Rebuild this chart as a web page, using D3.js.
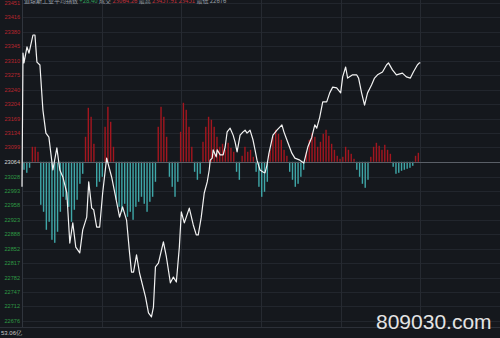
<!DOCTYPE html>
<html><head><meta charset="utf-8">
<script src="https://cdn.jsdelivr.net/npm/d3@7"></script>
<style>html,body{margin:0;padding:0;background:#15181d;overflow:hidden}</style>
</head><body>
<svg id="c" width="500" height="338"></svg>
<script>
// ---- data ----
const tickValues = [23451,23416,23380,23345,23310,23275,23240,23204,23169,23134,23099,23064,
  23028,22993,22958,22923,22888,22852,22817,22782,22747,22712,22676];
const baseValue = 23064;
const timeGrid = [40,80,120,160,200];
const times = [0,0.5,1,2.5,3.5,5.5,6.5,7.5,9,10.5,12,13.5,15.5,17.5,19,20.5,22.5,24,25.5,27,29,30.5,32.5,33.5,35,36,37.5,39,40.5,42.5,45,47.5,49,50.5,52.5,54,55,56,57.5,59,62,63.5,65,66,67,68.5,71,72.5,74.5,76,77.5,79,80,81.5,84,86,87.5,88.5,90,91.5,93,94,94.5,95.5,96,97.5,98,99.5,101,102,103,104.5,106,107,108,109.5,111,112,113,114.5,116,117,118,119.5,121,122,123,124,126,128,130.5,131.5,133,135.5,137,139.5,141.5,143.5,145.5,147,148,149.5,151,153,154.5,156,158,160,161,162.5,163.5,166,168,169,170.5,172,173.5,175.5,177,178.5,181,183,184,186,188,191,193,195,196.5,198.5,199.5,200];
const prices = [23003,23329,23305,23344,23329,23373,23373,23307,23300,23190,23134,23124,23044,23098,23044,23027,22988,22866,22915,22856,22842,22898,22929,23015,22951,22947,22905,22905,22988,23073,23027,22966,22929,22954,22922,22842,22795,22795,22837,22793,22735,22696,22686,22710,22808,22817,22869,22832,22769,22783,22771,22856,22942,22915,22951,22910,22886,22886,22929,22988,23015,23044,23068,23073,23093,23076,23093,23081,23081,23100,23137,23146,23129,23112,23088,23129,23137,23141,23134,23141,23117,23093,23068,23044,23039,23037,23056,23085,23129,23141,23154,23137,23117,23085,23073,23068,23061,23100,23124,23154,23146,23173,23210,23210,23232,23246,23244,23232,23271,23295,23268,23276,23276,23268,23232,23202,23232,23251,23268,23276,23283,23300,23305,23288,23276,23280,23271,23268,23283,23300,23305,23305];
const barValues = [-8,-11,-6,15,15,10,-43,-50,-68,-60,-78,-81,-70,-50,-35,-38,-45,-60,-48,-38,-22,-12,
  25,54,45,18,-25,-20,-15,35,55,40,15,-38,-45,-50,-42,-55,-50,-58,-45,-40,-35,-42,-50,-40,-35,-20,
  35,55,45,25,-15,-25,-35,-20,30,59,52,35,15,-10,-18,-12,20,35,45,42,35,25,15,18,12,19,14,10,-10,-18,
  6,15,10,12,5,-10,-25,-35,-30,-20,12,25,32,28,22,12,6,-10,-18,-25,-22,-15,-8,
  10,22,29,25,15,20,28,32,26,18,12,6,3,5,15,12,8,3,-8,-15,-22,-26,-18,5,
  15,19,16,12,17,12,8,-5,-12,-11,-9,-8,-7,-6,-4,6,9];
const headerParts = [
  {t:"道琼斯工业平均指数", c:"#9aa0a8"}, {t:"+28.40", c:"#2fa05a"}, {t:" 成交", c:"#9aa0a8"},
  {t:"23064.26", c:"#c0303a"}, {t:" 最高", c:"#9aa0a8"}, {t:"23457.91 23451", c:"#c0303a"}, {t:" 最低 22676", c:"#9aa0a8"}
];
const volumeLabel = "53.06亿";
const watermark = "809030.com";

// ---- drawing ----
const svg = d3.select("#c");
const padL = 22, padR = 500, padT = 3, padB = 321;
const x = d3.scaleLinear().domain([0,240]).range([padL, padR]);
const y = d3.scaleLinear().domain([22676,23451]).range([padB, padT]);
const yb = y(baseValue);
const barScale = d3.scaleLinear().domain([-100,100]).range([yb+100, yb-100]);
const barX = d3.scaleLinear().domain([0, barValues.length-1]).range([x(1), x(199)]);
const nPts = Math.min(times.length, prices.length);

// grid
svg.append("g").selectAll("line").data(tickValues).join("line")
  .attr("x1", padL).attr("x2", padR)
  .attr("y1", d=>Math.round(y(d))+0.5).attr("y2", d=>Math.round(y(d))+0.5)
  .attr("stroke", "#22262d").attr("stroke-width", 1);
svg.append("g").selectAll("line").data(timeGrid).join("line")
  .attr("x1", d=>Math.round(x(d))+0.5).attr("x2", d=>Math.round(x(d))+0.5)
  .attr("y1", 0).attr("y2", 327)
  .attr("stroke", "#262a31").attr("stroke-width", 1);
svg.append("line").attr("x1", padL+0.5).attr("x2", padL+0.5).attr("y1", 0).attr("y2", 327)
  .attr("stroke", "#30353d");
svg.append("line").attr("x1", 0).attr("x2", padR).attr("y1", 327.5).attr("y2", 327.5)
  .attr("stroke", "#2c3038");

// bars
svg.append("g").selectAll("rect").data(barValues).join("rect")
  .attr("x", (d,i)=>barX(i)-0.7)
  .attr("width", 1.4)
  .attr("y", d=>d>0 ? barScale(d) : yb)
  .attr("height", d=>Math.abs(barScale(d)-yb))
  .attr("fill", d=>d>0 ? "#a3161f" : "#3fa7a8");

// base line
svg.append("line").attr("x1", padL).attr("x2", padR).attr("y1", Math.round(yb)+0.5).attr("y2", Math.round(yb)+0.5)
  .attr("stroke", "#5a5f67").attr("stroke-width", 1);

// price line
const line = d3.line().x((d,i)=>x(times[i])).y(d=>y(d));
svg.append("path").datum(prices.slice(0, nPts)).attr("d", line)
  .attr("fill", "none").attr("stroke", "#f2f2f2").attr("stroke-width", 1.2)
  .attr("stroke-linejoin", "round");

// axis labels
svg.append("g").selectAll("text").data(tickValues).join("text")
  .attr("x", 20).attr("y", d=>y(d)+2)
  .attr("text-anchor", "end")
  .attr("font-family", "Liberation Sans, Arial, sans-serif").attr("font-size", 5.6)
  .attr("fill", d=> d>baseValue ? "#b7262e" : (d<baseValue ? "#2f9a45" : "#d8d8d8"))
  .text(d=>d);
svg.append("text").attr("x", 1).attr("y", 335)
  .attr("font-family", "Liberation Sans, Arial, sans-serif").attr("font-size", 6)
  .attr("fill", "#c8c8c8").text(volumeLabel);

// header (partially clipped)
const hdr = svg.append("text").attr("x", 24).attr("y", 2.5)
  .attr("font-family", "Noto Sans CJK SC, sans-serif").attr("font-size", 6);
hdr.selectAll("tspan").data(headerParts).join("tspan")
  .attr("fill", d=>d.c).text(d=>d.t + " ");

// watermark
svg.append("text").attr("x", 376).attr("y", 329)
  .attr("font-family", "Liberation Sans, Arial, sans-serif").attr("font-size", 21)
  .attr("fill", "#e4e4e4").text(watermark);
</script>
</body></html>
